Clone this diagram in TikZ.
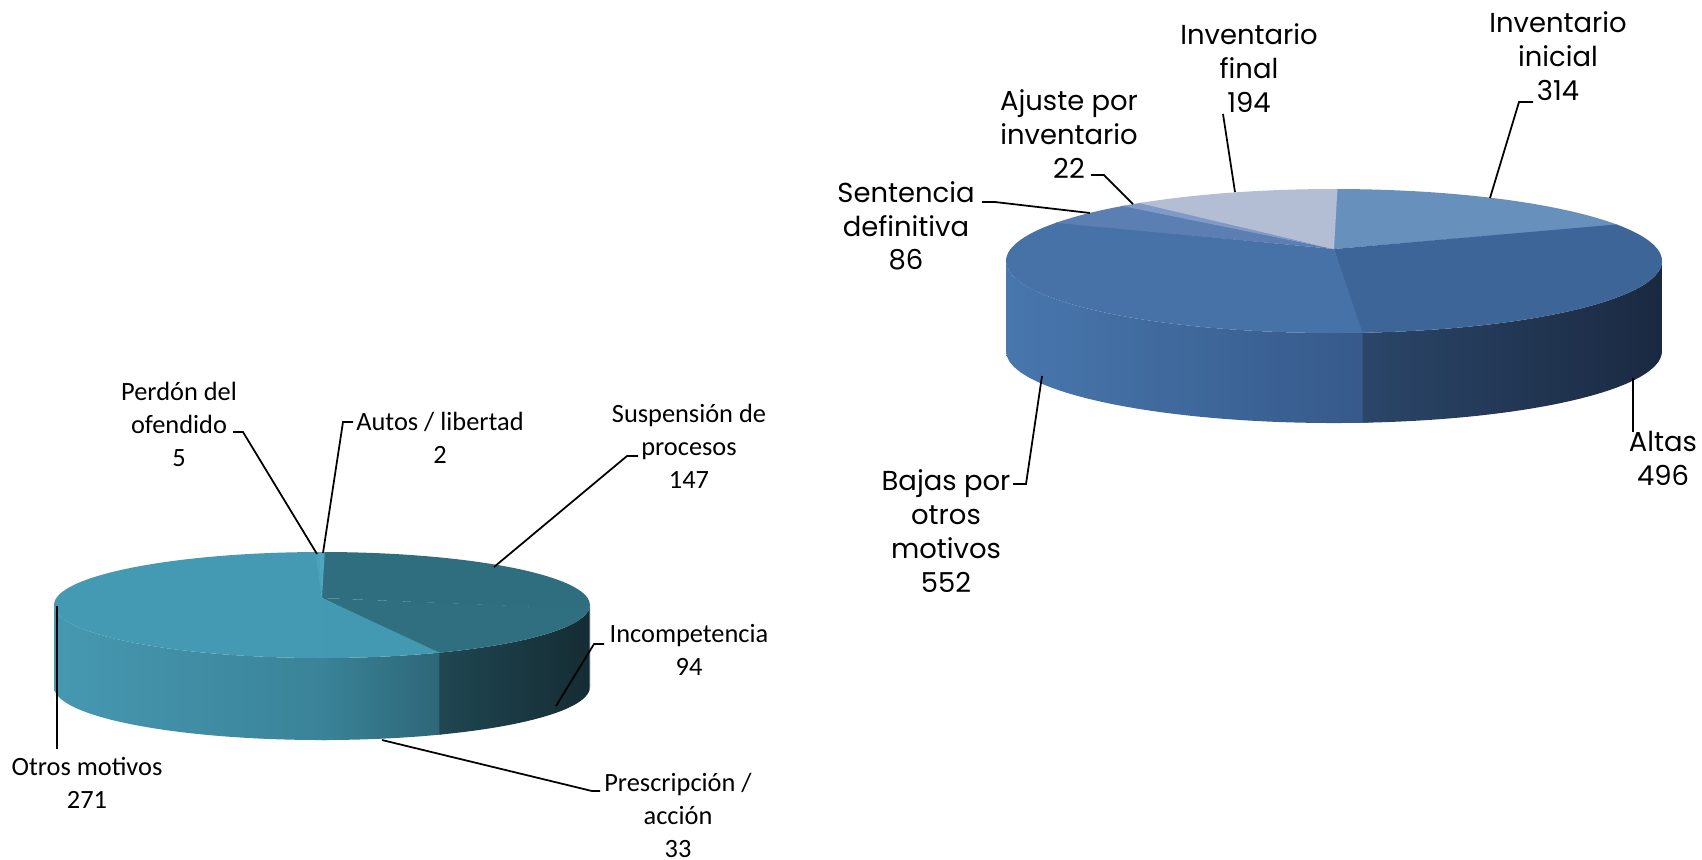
\documentclass[tikz,border=0pt]{standalone}
\usepackage{fontspec}
\usetikzlibrary{calc}
\newfontfamily\calfont{Carlito}
\newfontfamily\gothfont{Poppins}

% left pie colours
\definecolor{suspTop}{HTML}{2E6E7F}
\definecolor{incTop}{HTML}{2F6F80}
\definecolor{presTop}{HTML}{4499B2}
\definecolor{otrTop}{HTML}{4499B3}
\definecolor{perdTop}{HTML}{4AA1BA}
\definecolor{autTop}{HTML}{4EA6BF}
\definecolor{otrSideA}{HTML}{4698B1}
\definecolor{otrSideB}{HTML}{3A8398}
\definecolor{presSideB}{HTML}{2D6677}
\definecolor{incSideA}{HTML}{1F4752}
\definecolor{incSideB}{HTML}{152C34}
\definecolor{suspSide}{HTML}{1B3B45}
% right pie colours
\definecolor{iniTop}{HTML}{6890BD}
\definecolor{altTop}{HTML}{3D6597}
\definecolor{bajTop}{HTML}{4672A8}
\definecolor{senTop}{HTML}{5B7EB3}
\definecolor{ajuTop}{HTML}{7F9AC6}
\definecolor{finTop}{HTML}{B3BDD3}
\definecolor{bajSideA}{HTML}{4877AD}
\definecolor{bajSideB}{HTML}{36598A}
\definecolor{altSideA}{HTML}{2B4669}
\definecolor{altSideB}{HTML}{1A2941}

\begin{document}
\begin{tikzpicture}[x=0.01cm, y=-0.01cm,
    leader/.style={line width=0.5pt, black},
    lbl/.style={align=center, inner sep=0pt, font=\calfont\fontsize{7.5}{9.4}\selectfont},
    glbl/.style={align=center, inner sep=0pt, font=\gothfont\fontsize{7.8}{9.6}\selectfont}]
    \useasboundingbox (0,0) rectangle (1702,859);

    % Left pie
    \coordinate (L) at (322,605);
    \coordinate (PL) at (322,598);

    % Left pie - side (each piece runs a little under the next one)
    \shade[left color=otrSideA, right color=otrSideB] ($(L)+(89:268 and 53)$) arc[start angle=89, end angle=180, x radius=268, y radius=53] -- ++(0,82) arc[start angle=180, end angle=89, x radius=268, y radius=53] -- cycle;
    \shade[left color=otrSideB, right color=presSideB] ($(L)+(63.5:268 and 53)$) arc[start angle=63.5, end angle=90, x radius=268, y radius=53] -- ++(0,82) arc[start angle=90, end angle=63.5, x radius=268, y radius=53] -- cycle;
    \shade[left color=incSideA, right color=incSideB] ($(L)+(3.5:268 and 53)$) arc[start angle=3.5, end angle=64, x radius=268, y radius=53] -- ++(0,82) arc[start angle=64, end angle=3.5, x radius=268, y radius=53] -- cycle;
    \fill[suspSide] ($(L)+(0:268 and 53)$) arc[start angle=0, end angle=4, x radius=268, y radius=53] -- ++(0,82) arc[start angle=4, end angle=0, x radius=268, y radius=53] -- cycle;

    % Left pie - top
    \fill[suspTop] (PL) -- ($(L)+(-90:268 and 53)$) arc[start angle=-90, end angle=4.6, x radius=268, y radius=53] -- cycle;
    \fill[incTop] (PL) -- ($(L)+(4:268 and 53)$) arc[start angle=4, end angle=64.6, x radius=268, y radius=53] -- cycle;
    \fill[presTop] (PL) -- ($(L)+(64:268 and 53)$) arc[start angle=64, end angle=90.6, x radius=268, y radius=53] -- cycle;
    \fill[otrTop] (PL) -- ($(L)+(90:268 and 53)$) arc[start angle=90, end angle=269.1, x radius=268, y radius=53] -- cycle;
    \fill[perdTop] (PL) -- ($(L)+(268.5:268 and 53)$) arc[start angle=268.5, end angle=270, x radius=268, y radius=53] -- cycle;
    \fill[autTop] (PL) -- ($(L)+(269.4:268 and 53)$) arc[start angle=269.4, end angle=270.6, x radius=268, y radius=53] -- cycle;

    % Left pie - labels
    \node[lbl] (perdon) at (179,424) {Perdón del\\ofendido\\5};
    \node[lbl] (autos) at (440,438) {Autos / libertad\\2};
    \node[lbl] (susp) at (689,446) {Suspensión de\\procesos\\147};
    \node[lbl] (incomp) at (689,650) {Incompetencia\\94};
    \node[lbl] (presc) at (678,815) {Prescripción /\\acción\\33};
    \node[lbl] (otros) at (87,783) {Otros motivos\\271};

    % Left pie - leaders
    \coordinate (perdonA) at (233,432);
    \coordinate (perdonB) at (243,432);
    \coordinate (perdonC) at (317,554);
    \coordinate (autosA) at (353,422);
    \coordinate (autosB) at (343,422);
    \coordinate (autosC) at (323,553);
    \coordinate (suspA) at (638,456);
    \coordinate (suspB) at (627,456);
    \coordinate (suspC) at (494,567);
    \coordinate (incompA) at (604,644);
    \coordinate (incompB) at (594,644);
    \coordinate (incompC) at (556,706);
    \coordinate (prescA) at (600,791);
    \coordinate (prescB) at (592,791);
    \coordinate (prescC) at (382,740);
    \coordinate (otrosA) at (57,749);
    \coordinate (otrosC) at (57,606);
    \draw[leader] (perdonA) -- (perdonB) -- (perdonC);
    \draw[leader] (autosA) -- (autosB) -- (autosC);
    \draw[leader] (suspA) -- (suspB) -- (suspC);
    \draw[leader] (incompA) -- (incompB) -- (incompC);
    \draw[leader] (prescA) -- (prescB) -- (prescC);
    \draw[leader] (otrosA) -- (otrosC);

    % Right pie
    \coordinate (R) at (1334,261);
    \coordinate (PR) at (1334,249);

    % Right pie - side
    \shade[left color=bajSideA, right color=bajSideB] ($(R)+(84:328 and 72)$) arc[start angle=84, end angle=180, x radius=328, y radius=72] -- ++(0,90) arc[start angle=180, end angle=84, x radius=328, y radius=72] -- cycle;
    \shade[left color=altSideA, right color=altSideB] ($(R)+(0:328 and 72)$) arc[start angle=0, end angle=85, x radius=328, y radius=72] -- ++(0,90) arc[start angle=85, end angle=0, x radius=328, y radius=72] -- cycle;

    % Right pie - top
    \fill[iniTop] (PR) -- ($(R)+(-90:328 and 72)$) arc[start angle=-90, end angle=-29.9, x radius=328, y radius=72] -- cycle;
    \fill[altTop] (PR) -- ($(R)+(-30.5:328 and 72)$) arc[start angle=-30.5, end angle=85.6, x radius=328, y radius=72] -- cycle;
    \fill[bajTop] (PR) -- ($(R)+(85:328 and 72)$) arc[start angle=85, end angle=212.6, x radius=328, y radius=72] -- cycle;
    \fill[senTop] (PR) -- ($(R)+(212:328 and 72)$) arc[start angle=212, end angle=230.4, x radius=328, y radius=72] -- cycle;
    \fill[ajuTop] (PR) -- ($(R)+(229.8:328 and 72)$) arc[start angle=229.8, end angle=234.2, x radius=328, y radius=72] -- cycle;
    \fill[finTop] (PR) -- ($(R)+(233.6:328 and 72)$) arc[start angle=233.6, end angle=270.6, x radius=328, y radius=72] -- cycle;

    % Right pie - labels
    \node[glbl] (inicial) at (1558,56) {Inventario\\inicial\\314};
    \node[glbl] (final) at (1249,68) {Inventario\\final\\194};
    \node[glbl] (ajuste) at (1069,134) {Ajuste por\\inventario\\22};
    \node[glbl] (sentencia) at (906,226) {Sentencia\\definitiva\\86};
    \node[glbl] (bajas) at (946,531) {Bajas por\\otros\\motivos\\552};
    \node[glbl] (altas) at (1663,458) {Altas\\496};

    % Right pie - leaders
    \coordinate (inicialA) at (1533,102);
    \coordinate (inicialB) at (1519,102);
    \coordinate (inicialC) at (1490,198);
    \coordinate (finalA) at (1223,114);
    \coordinate (finalC) at (1235,192);
    \coordinate (ajusteA) at (1091,175);
    \coordinate (ajusteB) at (1104,175);
    \coordinate (ajusteC) at (1133,204);
    \coordinate (sentenciaA) at (982,202);
    \coordinate (sentenciaB) at (995,202);
    \coordinate (sentenciaC) at (1090,213);
    \coordinate (bajasA) at (1013,484);
    \coordinate (bajasB) at (1026,484);
    \coordinate (bajasC) at (1042,376);
    \coordinate (altasA) at (1633,432);
    \coordinate (altasC) at (1633,378);
    \draw[leader] (inicialA) -- (inicialB) -- (inicialC);
    \draw[leader] (finalA) -- (finalC);
    \draw[leader] (ajusteA) -- (ajusteB) -- (ajusteC);
    \draw[leader] (sentenciaA) -- (sentenciaB) -- (sentenciaC);
    \draw[leader] (bajasA) -- (bajasB) -- (bajasC);
    \draw[leader] (altasA) -- (altasC);
\end{tikzpicture}
\end{document}
